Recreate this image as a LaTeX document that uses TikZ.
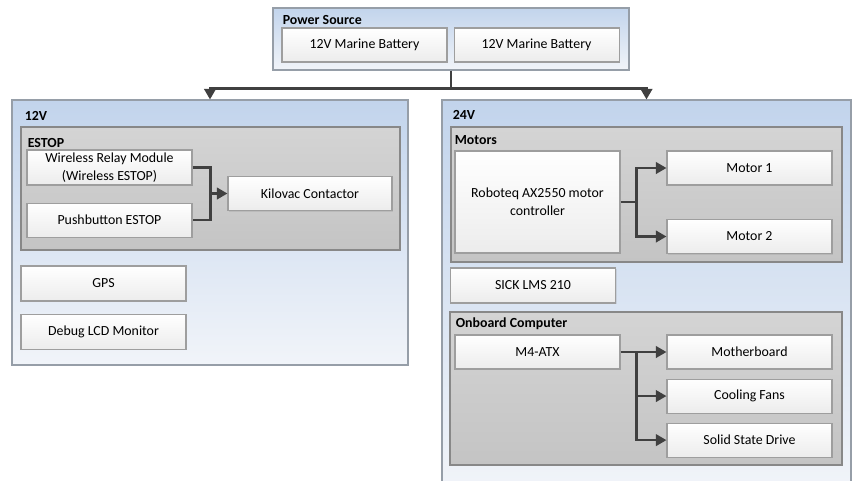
\documentclass[tikz,border=0pt]{standalone}
\usepackage{fontspec}
\setmainfont{Carlito}
\usetikzlibrary{arrows.meta, positioning, calc, shadows}
\definecolor{groupBlue}{RGB}{194,212,236}
\definecolor{groupPale}{RGB}{241,244,249}
\definecolor{groupEdge}{RGB}{150,158,168}
\definecolor{panelTop}{RGB}{212,212,212}
\definecolor{panelBottom}{RGB}{196,196,196}
\definecolor{panelEdge}{RGB}{136,136,136}
\definecolor{boxBottom}{RGB}{236,236,236}
\definecolor{boxEdge}{RGB}{158,158,158}
\definecolor{wireDark}{RGB}{64,64,64}
\newcommand{\blockfont}{\fontsize{7.9}{10.4}\selectfont}
\tikzset{
  groupbox/.style={
    rectangle, draw=groupEdge, line width=0.6pt,
    top color=groupBlue, bottom color=groupPale,
    drop shadow={shadow xshift=0.8pt, shadow yshift=-0.8pt, opacity=0.25}
  },
  panelbox/.style={
    rectangle, draw=panelEdge, line width=0.6pt,
    top color=panelTop, bottom color=panelBottom
  },
  partbox/.style={
    rectangle, draw=boxEdge, line width=0.6pt,
    top color=white, bottom color=boxBottom,
    minimum width=3.3cm, minimum height=0.68cm,
    inner sep=1pt, align=center, font=\blockfont,
    drop shadow={shadow xshift=0.6pt, shadow yshift=-0.6pt, opacity=0.2}
  },
  grouptitle/.style={anchor=base west, inner sep=0pt, font=\blockfont\bfseries},
  flowline/.style={line width=1.4pt, draw=wireDark},
  myarrow/.style={flowline, -{Triangle[length=6pt, width=6.5pt]}}
}

\begin{document}
\begin{tikzpicture}

\useasboundingbox (0,0) rectangle (17.08,-9.60);

%% POWER SOURCE
\node[groupbox, minimum width=7.12cm, minimum height=1.24cm] (power) at (9.02,-0.78) {};
\node[grouptitle] at ([xshift=0.2cm, yshift=-0.34cm]power.north west) {Power Source};
\node[partbox] (battA) at (7.29,-0.90) {12V Marine Battery};
\node[partbox, right=0.12cm of battA] (battB) {12V Marine Battery};

%% 12V SIDE
\node[groupbox, minimum width=7.92cm, minimum height=5.30cm] (supplyA) at (4.20,-4.65) {};
\node[grouptitle] at ([xshift=0.26cm, yshift=-0.42cm]supplyA.north west) {12V};
\node[panelbox, minimum width=7.58cm, minimum height=2.46cm] (estop) at (4.21,-3.77) {};
\node[grouptitle] at ([xshift=0.14cm, yshift=-0.42cm]estop.north west) {ESTOP};
\node[partbox, inner sep=0pt, minimum height=0.70cm] (wireless) at (2.19,-3.35) {
  Wireless Relay Module\\(Wireless ESTOP)
};
\node[partbox, below=0.34cm of wireless] (pushbtn) {Pushbutton ESTOP};
\node[partbox, minimum width=3.28cm] (kilovac) at (6.20,-3.87) {Kilovac Contactor};
\node[partbox, minimum height=0.70cm] (gps) at (2.07,-5.67) {GPS};
\node[partbox, minimum height=0.70cm, below=0.24cm of gps] (lcd) {Debug LCD Monitor};

%% 24V SIDE
\node[groupbox, minimum width=8.18cm, minimum height=7.8cm] (supplyB) at (12.93,-5.9) {};
\node[grouptitle] at ([xshift=0.22cm, yshift=-0.40cm]supplyB.north west) {24V};
\node[panelbox, minimum width=7.82cm, minimum height=2.70cm] (motors) at (12.93,-3.89) {};
\node[grouptitle] at ([xshift=0.08cm, yshift=-0.36cm]motors.north west) {Motors};
\node[partbox, minimum height=2.04cm] (roboteq) at (10.75,-4.04) {
  Roboteq AX2550 motor\\controller
};
\node[partbox] (motorA) at (14.99,-3.36) {Motor 1};
\node[partbox] (motorB) at (14.99,-4.73) {Motor 2};
\node[partbox, minimum height=0.70cm] (sick) at (10.66,-5.71) {SICK LMS 210};

\node[panelbox, minimum width=7.84cm, minimum height=3.06cm] (computer) at (12.92,-7.77) {};
\node[grouptitle] at ([xshift=0.12cm, yshift=-0.32cm]computer.north west) {Onboard Computer};
\node[partbox] (atx) at (10.75,-7.04) {M4-ATX};
\node[partbox] (mobo) at (14.99,-7.04) {Motherboard};
\node[partbox, below=0.18cm of mobo] (fans) {Cooling Fans};
\node[partbox, below=0.18cm of fans] (ssd) {Solid State Drive};

%% ARROWS
% power split to both rails
\coordinate[below=0.36cm of power.south] (split);
\draw[flowline] (power.south) -- (split);
\draw[myarrow] (split) -| (supplyA.north);
\draw[myarrow] (split) -| (supplyB.north);

% estop buttons -> contactor
\coordinate (estopjoin) at ($(wireless.east |- kilovac.west) + (0.36,0)$);
\draw[flowline] (wireless.east) -| (estopjoin) |- (pushbtn.east);
\draw[myarrow] (estopjoin) -- (kilovac.west);

% motor controller -> motors
\coordinate (motorjoin) at ($(roboteq.east) + (0.32,0)$);
\draw[flowline] (roboteq.east) -- (motorjoin);
\draw[myarrow] (motorjoin) |- (motorA.west);
\draw[myarrow] (motorjoin) |- (motorB.west);

% power supply -> computer parts
\coordinate (atxjoin) at ($(atx.east) + (0.32,0)$);
\draw[myarrow] (atx.east) -- (mobo.west);
\draw[myarrow] (atxjoin) |- (fans.west);
\draw[myarrow] (atxjoin) |- (ssd.west);

\end{tikzpicture}
\end{document}
